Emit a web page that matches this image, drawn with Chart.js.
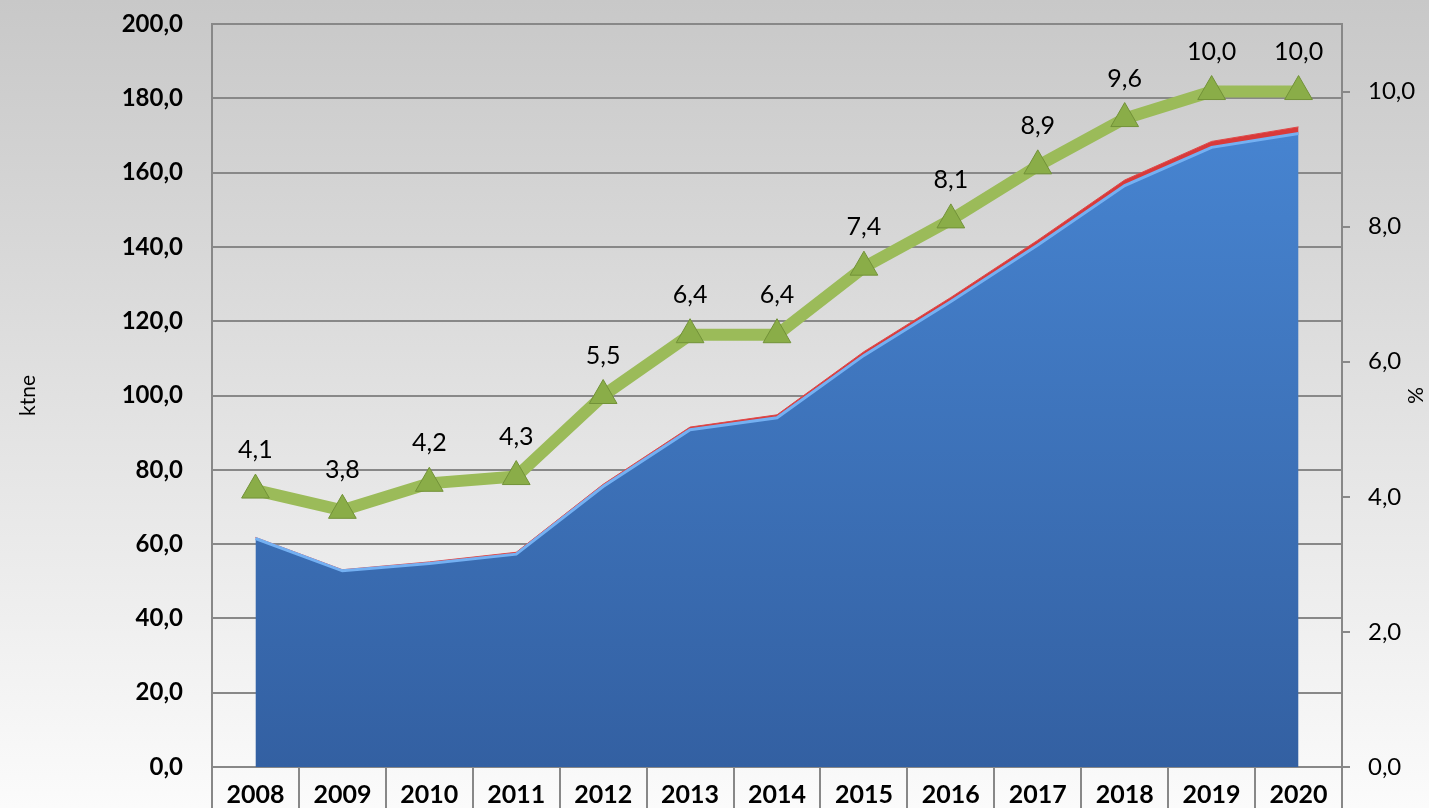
<!DOCTYPE html>
<html>
<head>
<meta charset="utf-8">
<script src="https://cdn.jsdelivr.net/npm/chart.js@4.4.0/dist/chart.umd.min.js"></script>
<style>
  html, body { margin: 0; padding: 0; }
  #wrap { width: 1429px; height: 808px; }
</style>
</head>
<body>
<div id="wrap"><canvas id="ktneChart" width="1429" height="808"></canvas></div>
<script>
// data
const years = ['2008', '2009', '2010', '2011', '2012', '2013', '2014', '2015', '2016', '2017', '2018', '2019', '2020'];
const blueValues = [61.5, 52.8, 54.8, 57.3, 75.5, 90.8, 94.0, 110.8, 125.3, 140.5, 156.5, 166.8, 170.5];
const redValues = [0.3, 0.3, 0.4, 0.5, 0.6, 0.7, 0.8, 1.0, 1.1, 1.3, 1.5, 1.6, 1.8];
const pctValues = [4.1, 3.8, 4.2, 4.3, 5.5, 6.4, 6.4, 7.4, 8.1, 8.9, 9.6, 10.0, 10.0];

const fmt = v => Number(v).toFixed(1).replace('.', ',');
const FONT = 'Lato, "Open Sans", sans-serif';

const bgPlugin = {
  id: 'bg',
  beforeDraw(chart) {
    const { ctx, width, height } = chart;
    const g = ctx.createLinearGradient(0, 0, 0, height);
    g.addColorStop(0, '#c8c8c8');
    g.addColorStop(1, '#fbfbfb');
    ctx.save();
    ctx.fillStyle = g;
    ctx.fillRect(0, 0, width, height);
    ctx.restore();
  }
};

// value labels above the green triangles
const labelPlugin = {
  id: 'pctLabels',
  afterDatasetsDraw(chart) {
    const meta = chart.getDatasetMeta(0);
    const ctx = chart.ctx;
    ctx.save();
    ctx.font = '25px ' + FONT;
    ctx.fillStyle = '#000';
    ctx.textAlign = 'center';
    ctx.textBaseline = 'middle';
    meta.data.forEach((pt, i) => {
      ctx.fillText(fmt(pctValues[i]), pt.x, pt.y - 40);
    });
    ctx.restore();
  }
};

function blueFill(context) {
  const area = context.chart.chartArea;
  if (!area) return '#3a6fb5';
  const g = context.chart.ctx.createLinearGradient(0, area.top, 0, area.bottom);
  g.addColorStop(0, '#4a8ad8');
  g.addColorStop(1, '#3360a2');
  return g;
}

function fixWidth(w) {
  return scale => {
    scale.width = w;
    scale.paddingTop = 0;
    scale.paddingBottom = 0;
  };
}

const ctx = document.getElementById('ktneChart').getContext('2d');
new Chart(ctx, {
  type: 'line',
  data: {
    labels: years,
    datasets: [
      {
        label: '%',
        data: pctValues,
        yAxisID: 'y1',
        borderColor: '#9bbb59',
        borderWidth: 12,
        pointStyle: 'triangle',
        pointRadius: 16,
        pointBackgroundColor: '#8aad48',
        pointBorderColor: '#729238',
        pointBorderWidth: 1,
        fill: false,
        tension: 0
      },
      {
        label: 'blue',
        data: blueValues,
        yAxisID: 'y',
        backgroundColor: blueFill,
        borderColor: '#74b0f2',
        borderWidth: 3,
        pointRadius: 0,
        fill: 'origin',
        tension: 0
      },
      {
        label: 'red',
        data: redValues,
        yAxisID: 'y',
        backgroundColor: '#d93a3a',
        borderColor: '#e04848',
        borderWidth: 1,
        pointRadius: 0,
        fill: '-1',
        tension: 0
      }
    ]
  },
  options: {
    responsive: false,
    animation: false,
    layout: { padding: { top: 24, bottom: 0, left: 0, right: 0 } },
    plugins: {
      legend: { display: false },
      tooltip: { enabled: false }
    },
    scales: {
      x: {
        offset: true,
        grid: {
          offset: true,
          drawOnChartArea: false,
          tickLength: 41,
          color: '#888',
          lineWidth: 2
        },
        border: { color: '#888', width: 2 },
        ticks: {
          color: '#000',
          font: { family: FONT, size: 25, weight: 'bold' },
          padding: -28,
          maxRotation: 0
        },
        afterFit(scale) {
          scale.height = 41;
          scale.paddingLeft = 0;
          scale.paddingRight = 0;
        }
      },
      y: {
        position: 'left',
        stacked: true,
        min: 0,
        max: 200,
        ticks: {
          stepSize: 20,
          color: '#000',
          font: { family: FONT, size: 24, weight: 'bold' },
          padding: 29,
          callback: v => fmt(v)
        },
        grid: { color: '#888', lineWidth: 2, tickLength: 0 },
        border: { color: '#888', width: 2 },
        title: {
          display: true,
          text: 'ktne',
          color: '#000',
          font: { family: FONT, size: 21 },
          padding: { top: 16, bottom: 0 }
        },
        afterFit: fixWidth(212)
      },
      y1: {
        position: 'right',
        min: 0,
        max: 11,
        ticks: {
          stepSize: 2,
          color: '#000',
          font: { family: FONT, size: 24 },
          padding: 18,
          callback: v => fmt(v)
        },
        afterBuildTicks(scale) {
          scale.ticks = scale.ticks.filter(t => t.value <= 10);
        },
        grid: { drawOnChartArea: false, color: '#888', lineWidth: 2, tickLength: 8 },
        border: { color: '#888', width: 2 },
        title: {
          display: true,
          text: '%',
          color: '#000',
          font: { family: FONT, size: 21 },
          padding: { top: 2, bottom: 0 }
        },
        afterFit: fixWidth(87)
      }
    }
  },
  plugins: [bgPlugin, labelPlugin]
});
</script>
</body>
</html>
